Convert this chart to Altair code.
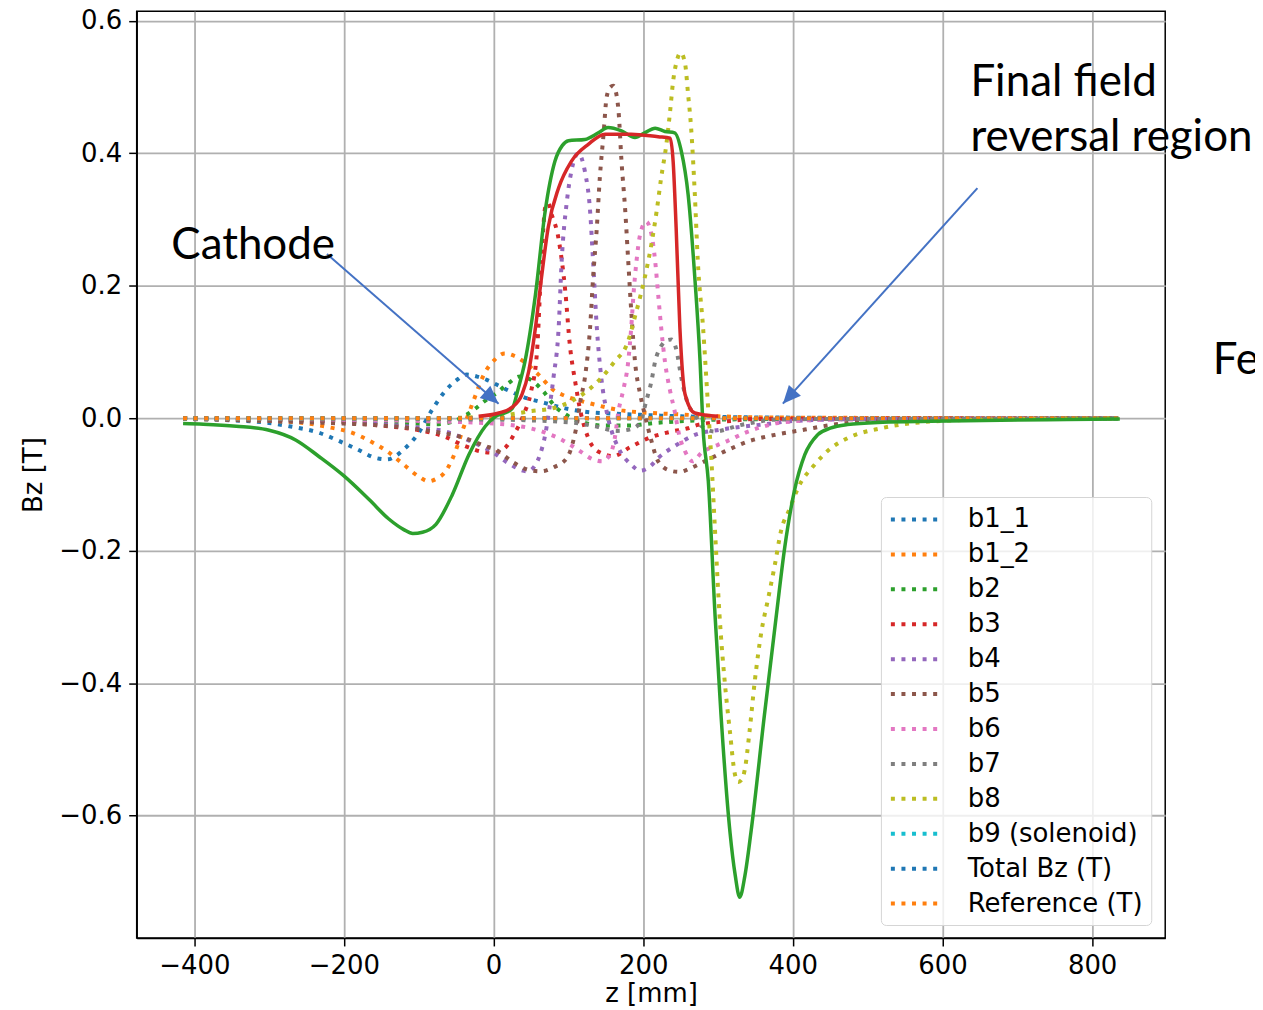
import altair as alt
import pandas as pd

# ---------------- data (z in mm, Bz in T) ----------------
b1_1_z = [-415, -350, -300, -273, -233, -207, -182, -157, -142, -131, -120, -102, -82, -67, -49, -36, -22, -9, 4, 20, 38, 69, 96, 122, 162, 202, 250, 300, 400, 600, 835]
b1_1_y = [0.0, -0.003, -0.007, -0.012, -0.022, -0.034, -0.047, -0.060, -0.062, -0.057, -0.047, -0.025, 0.013, 0.038, 0.058, 0.066, 0.063, 0.058, 0.051, 0.042, 0.033, 0.023, 0.015, 0.010, 0.007, 0.005, 0.003, 0.002, 0.001, 0.0, 0.0]

b1_2_z = [-415, -350, -300, -247, -218, -191, -164, -142, -120, -100, -87, -76, -64, -51, -42, -33, -27, -13, 2, 15, 28, 40, 60, 82, 91, 131, 171, 211, 247, 300, 400, 835]
b1_2_y = [0.0, -0.002, -0.004, -0.008, -0.014, -0.021, -0.035, -0.050, -0.070, -0.088, -0.095, -0.091, -0.080, -0.050, -0.020, 0.008, 0.026, 0.066, 0.089, 0.098, 0.094, 0.086, 0.066, 0.041, 0.036, 0.022, 0.012, 0.008, 0.006, 0.003, 0.001, 0.0]

b2_z = [-415, -300, -200, -150, -104, -76, -55, -38, -24, -13, 4, 20, 35, 50, 67, 82, 96, 113, 149, 180, 216, 256, 300, 400, 835]
b2_y = [0.0, -0.002, -0.004, -0.006, -0.008, -0.009, -0.005, 0.004, 0.015, 0.025, 0.038, 0.053, 0.063, 0.058, 0.040, 0.018, 0.006, -0.004, -0.011, -0.011, -0.007, -0.004, -0.002, -0.001, 0.0]

b3_z = [-415, -300, -200, -150, -100, -67, -38, -13, 0, 15, 27, 40, 50, 58, 64, 69, 73, 77, 87, 96, 102, 109, 116, 122, 131, 145, 160, 182, 207, 238, 260, 273, 318, 350, 835]
b3_y = [0.0, -0.002, -0.006, -0.011, -0.018, -0.027, -0.042, -0.051, -0.052, -0.045, -0.025, 0.005, 0.040, 0.100, 0.237, 0.318, 0.325, 0.310, 0.270, 0.190, 0.110, 0.056, 0.011, -0.015, -0.040, -0.053, -0.057, -0.044, -0.030, -0.020, -0.015, -0.010, -0.004, -0.001, 0.0]

b4_z = [-415, -300, -200, -150, -100, -64, -30, 0, 20, 45, 55, 62, 69, 74, 80, 87, 91, 98, 104, 113, 122, 129, 133, 138, 144, 151, 158, 167, 184, 196, 210, 220, 242, 269, 304, 362, 402, 500, 835]
b4_y = [0.0, -0.003, -0.006, -0.009, -0.014, -0.020, -0.035, -0.052, -0.068, -0.080, -0.072, -0.055, -0.025, 0.010, 0.061, 0.137, 0.237, 0.328, 0.373, 0.400, 0.373, 0.313, 0.237, 0.137, 0.061, 0.011, -0.020, -0.045, -0.070, -0.079, -0.072, -0.060, -0.042, -0.025, -0.017, -0.009, -0.004, -0.001, 0.0]

b5_z = [-415, -300, -200, -160, -118, -80, -38, -11, 2, 27, 47, 64, 80, 98, 107, 112, 116, 122, 129, 133, 138, 142, 147, 151, 156, 160, 164, 167, 171, 176, 180, 184, 189, 196, 202, 210, 220, 236, 249, 262, 282, 309, 340, 376, 416, 451, 500, 600, 835]
b5_y = [-0.001, -0.004, -0.008, -0.010, -0.014, -0.020, -0.030, -0.042, -0.047, -0.067, -0.078, -0.080, -0.074, -0.060, -0.032, -0.005, 0.026, 0.061, 0.137, 0.212, 0.288, 0.363, 0.429, 0.484, 0.500, 0.502, 0.490, 0.464, 0.388, 0.313, 0.237, 0.162, 0.086, 0.036, 0.006, -0.030, -0.065, -0.079, -0.081, -0.076, -0.065, -0.050, -0.035, -0.025, -0.017, -0.010, -0.005, -0.002, 0.0]

b6_z = [-415, -200, -100, 0, 22, 49, 70, 87, 111, 133, 145, 156, 162, 167, 173, 180, 184, 187, 191, 196, 204, 211, 216, 220, 224, 229, 236, 242, 248, 256, 266, 278, 300, 313, 336, 362, 380, 450, 835]
b6_y = [0.0, -0.002, -0.004, -0.008, -0.010, -0.015, -0.022, -0.030, -0.046, -0.062, -0.065, -0.054, -0.030, 0.011, 0.041, 0.086, 0.137, 0.187, 0.237, 0.278, 0.297, 0.278, 0.237, 0.187, 0.137, 0.086, 0.041, 0.011, -0.025, -0.050, -0.065, -0.052, -0.040, -0.034, -0.022, -0.012, -0.007, -0.002, 0.0]

b7_z = [-415, 0, 100, 140, 165, 185, 196, 204, 211, 216, 224, 232, 238, 244, 251, 256, 260, 269, 278, 296, 313, 327, 349, 376, 450, 835]
b7_y = [0.0, -0.002, -0.006, -0.013, -0.019, -0.016, -0.006, 0.026, 0.056, 0.086, 0.109, 0.118, 0.119, 0.105, 0.061, 0.036, 0.021, 0.006, -0.012, -0.020, -0.016, -0.011, -0.006, -0.002, -0.001, 0.0]

b8_z = [-415, -100, 0, 51, 82, 104, 127, 144, 162, 178, 191, 202, 211, 218, 224, 231, 236, 240, 245, 250, 256, 260, 264, 269, 273, 280, 286, 291, 296, 302, 309, 316, 322, 327, 332, 336, 342, 349, 358, 367, 376, 384, 396, 407, 429, 451, 473, 518, 562, 650, 835]
b8_y = [0.0, 0.0, 0.003, 0.011, 0.016, 0.026, 0.043, 0.061, 0.086, 0.111, 0.162, 0.212, 0.263, 0.313, 0.363, 0.414, 0.464, 0.509, 0.540, 0.552, 0.535, 0.489, 0.439, 0.338, 0.237, 0.137, 0.030, -0.060, -0.170, -0.297, -0.398, -0.474, -0.534, -0.549, -0.545, -0.529, -0.474, -0.398, -0.322, -0.272, -0.221, -0.171, -0.136, -0.105, -0.070, -0.045, -0.030, -0.015, -0.007, -0.002, 0.0]

flat_z = [-415, 835]
b9_y = [0.0, 0.0]
total_dot_y = [0.0, 0.0]
reference_dot_y = [0.0, 0.0]

# solid curves
total_z = [-415, -388, -344, -300, -264, -233, -200, -166, -140, -120, -108, -95, -77, -55, -33, -11, 3, 15, 25, 33, 42, 56, 69, 82, 92, 100, 122, 140, 153, 171, 189, 202, 216, 229, 242, 251, 260, 269, 276, 280, 287, 296, 304, 316, 323, 329, 336, 344, 362, 378, 389, 402, 416, 433, 450, 473, 520, 584, 740, 837]
total_y = [-0.008, -0.009, -0.012, -0.018, -0.033, -0.058, -0.087, -0.123, -0.152, -0.168, -0.174, -0.172, -0.160, -0.115, -0.055, -0.012, 0.003, 0.008, 0.015, 0.045, 0.086, 0.187, 0.313, 0.388, 0.412, 0.419, 0.421, 0.431, 0.439, 0.434, 0.424, 0.431, 0.438, 0.433, 0.431, 0.403, 0.338, 0.212, 0.086, -0.015, -0.095, -0.297, -0.448, -0.625, -0.690, -0.723, -0.690, -0.625, -0.448, -0.297, -0.196, -0.110, -0.055, -0.025, -0.015, -0.0095, -0.006, -0.0045, -0.002, -0.001]

ref_z = [-20, 7, 24, 38, 47, 56, 64, 73, 87, 104, 127, 149, 184, 220, 236, 240, 244, 249, 256, 269, 300]
ref_y = [0.003, 0.008, 0.016, 0.036, 0.071, 0.137, 0.212, 0.288, 0.348, 0.388, 0.414, 0.429, 0.429, 0.425, 0.423, 0.388, 0.288, 0.137, 0.036, 0.008, 0.003]

series_names = ["b1_1", "b1_2", "b2", "b3", "b4", "b5", "b6", "b7", "b8",
                "b9 (solenoid)", "Total Bz (T)", "Reference (T)"]
series_colors = ["#1f77b4", "#ff7f0e", "#2ca02c", "#d62728", "#9467bd", "#8c564b",
                 "#e377c2", "#7f7f7f", "#bcbd22", "#17becf", "#1f77b4", "#ff7f0e"]
series_z = [b1_1_z, b1_2_z, b2_z, b3_z, b4_z, b5_z, b6_z, b7_z, b8_z, flat_z, flat_z, flat_z]
series_y = [b1_1_y, b1_2_y, b2_y, b3_y, b4_y, b5_y, b6_y, b7_y, b8_y, b9_y, total_dot_y, reference_dot_y]

# annotations
ann_text = ["Cathode", "Final field", "reversal region", "Fer"]
ann_z = [-430.7, 637.3, 637.3, 961.3]
ann_y = [0.2406, 0.4861, 0.4033, 0.0673]

arrow_z0 = [-222.7, 646.7]
arrow_y0 = [0.248, 0.3476]
arrow_z1 = [6.7, 386.7]
arrow_y1 = [0.0221, 0.0221]
arrow_angle = [131, 222]

# ---------------- tables ----------------
rows = []
for name, zs, ys in zip(series_names, series_z, series_y):
    if len(zs) != len(ys):
        raise ValueError(name)
    for z, y in zip(zs, ys):
        rows.append({"series": name, "z": z, "Bz": y})
dotted_df = pd.DataFrame(rows)
if len(total_z) != len(total_y) or len(ref_z) != len(ref_y):
    raise ValueError("solid")
total_df = pd.DataFrame({"z": total_z, "Bz": total_y})
ref_df = pd.DataFrame({"z": ref_z, "Bz": ref_y})
ann_df = pd.DataFrame({"z": ann_z, "Bz": ann_y, "label": ann_text})
arrow_df = pd.DataFrame({"z": arrow_z0, "Bz": arrow_y0, "z2": arrow_z1, "Bz2": arrow_y1})
head_df = pd.DataFrame({"z": arrow_z1, "Bz": arrow_y1, "ang": arrow_angle})

# ---------------- encodings ----------------
x_scale = alt.Scale(domain=[-477, 897.7], nice=False, zero=False)
y_scale = alt.Scale(domain=[-0.7845, 0.6146], nice=False, zero=False)
x_axis = alt.Axis(values=[-400, -200, 0, 200, 400, 600, 800], format="d", title="z [mm]",
                  titlePadding=2)
y_axis = alt.Axis(values=[-0.6, -0.4, -0.2, 0.0, 0.2, 0.4, 0.6], format=".1f", title="Bz [T]",
                  titlePadding=12)
X = alt.X("z:Q", scale=x_scale, axis=x_axis)
Y = alt.Y("Bz:Q", scale=y_scale, axis=y_axis)

legend = alt.Legend(
    title=None, orient="none", legendX=746, legendY=487,
    symbolType="M-1,0H3", symbolSize=625, symbolStrokeWidth=4, symbolDash=[4, 6.6],
    symbolFillColor="transparent",
    labelFont="DejaVu Sans", labelFontSize=26, labelColor="black", labelOffset=50,
    labelLimit=400, rowPadding=7, padding=8,
    strokeColor="#d5d5d5", fillColor="rgba(255,255,255,0.8)", cornerRadius=5,
)

dotted = alt.Chart(dotted_df).mark_line(
    strokeDash=[4, 6.6], strokeWidth=4, strokeCap="butt", interpolate="monotone"
).encode(
    x=X, y=Y,
    color=alt.Color("series:N", sort=series_names,
                    scale=alt.Scale(domain=series_names, range=series_colors), legend=legend),
)

total = alt.Chart(total_df).mark_line(color="#2ca02c", strokeWidth=3.5, interpolate="monotone").encode(x=X, y=Y)
ref = alt.Chart(ref_df).mark_line(color="#d62728", strokeWidth=3.5, interpolate="monotone").encode(x=X, y=Y)

arrows = alt.Chart(arrow_df).mark_rule(color="#4472C4", strokeWidth=2).encode(
    x=X, y=Y, x2="z2:Q", y2="Bz2:Q")
heads = alt.Chart(head_df).mark_point(
    shape="M0,0L0.45,1L-0.45,1Z", filled=True, size=1296, color="#4472C4", opacity=1, strokeWidth=0
).encode(x=X, y=Y, angle=alt.Angle("ang:Q", scale=None))

texts = alt.Chart(ann_df).mark_text(
    align="left", baseline="alphabetic", font="Lato", fontSize=44, color="black"
).encode(x=X, y=Y, text="label:N")

chart = alt.layer(dotted, total, ref, arrows, heads, texts).properties(
    width=1031, height=929,
    autosize=alt.AutoSizeParams(type="none"),
    padding={"left": 129, "top": 2, "right": 90, "bottom": 68},
).configure_axis(
    labelFont="DejaVu Sans", labelFontSize=26, labelColor="black",
    titleFont="DejaVu Sans", titleFontSize=26, titleFontWeight="normal", titleColor="black",
    gridColor="#b0b0b0", gridWidth=1.8, gridOpacity=1,
    domainColor="black", domainWidth=1.5,
    tickColor="black", tickWidth=1.5, tickSize=8, labelPadding=7,
).configure_view(stroke="black", strokeWidth=1.5)

chart.save("out.html", embed_options={"renderer": "svg", "actions": False})
